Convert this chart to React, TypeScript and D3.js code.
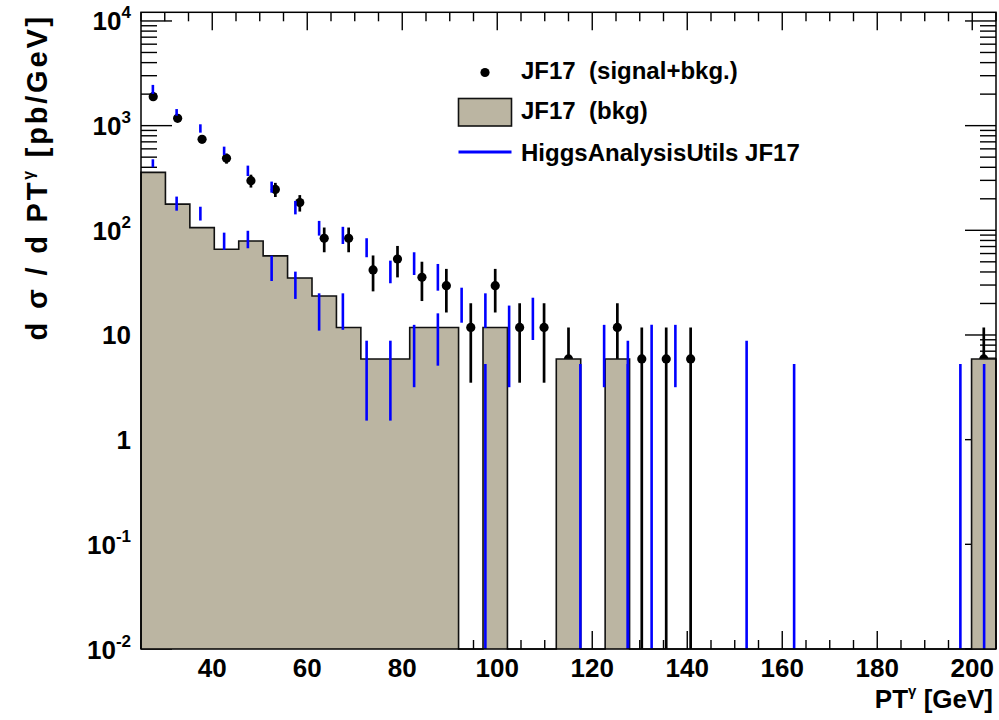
import React from 'react';
import * as d3 from 'd3';

// ---- binning (x categories) ----
const ptMin = 25;
const ptMax = 205;
const nBinsJF = 35; // JF17 histograms
const nBinsHAU = 36; // HiggsAnalysisUtils histograms

// ---- JF17 (signal+bkg.) : values and errors per bin ----
const sigBkgValues = [
  1892, 1175, 741, 487, 298, 246, 184, 84, 84, 41.8, 53.2, 35.6, 29.6, 11.8, 29.6, 11.8, 11.8, 5.9, 0,
  11.8, 5.9, 5.9, 5.9, 0, 0, 0, 0, 0, 0, 0, 0, 0, 0, 0, 5.9,
];
const sigBkgErrors = [
  106, 83, 66, 54, 42, 38, 33, 22.3, 22.3, 15.7, 17.7, 14.5, 13.2, 8.3, 13.2, 8.3, 8.3, 5.9, 0,
  8.3, 5.9, 5.9, 5.9, 0, 0, 0, 0, 0, 0, 0, 0, 0, 0, 0, 5.9,
];

// ---- JF17 (bkg) ----
const bkgValues = [
  358, 178, 106, 66, 79, 57, 35, 23.6, 11.8, 5.9, 5.9, 11.8, 11.8, 0, 11.8, 0, 0, 5.9, 0, 5.9,
  0, 0, 0, 0, 0, 0, 0, 0, 0, 0, 0, 0, 0, 0, 5.9,
];

// ---- HiggsAnalysisUtils JF17 : error bar ranges (high / low), null = empty ----
const hauTotalHigh = [
  2450, 1440, 1030, 630, 415, 292, 191, 123, 108, 84, 51.3, 61.7, 47.7, 28.3, 25.0, 19.1, 22.7, null,
  null, 12.5, 8.8, 12.5, 12.5, null, null, 8.8, null, null, null, null, null, null, null, null, null, null,
];
const hauTotalLow = [
  2010, 1245, 857, 524, 330, 229, 142, 89, 74, 55.3, 31.2, 37.4, 26.5, 13.1, 11.7, 3.17, 8.96, null,
  null, 3.17, 0, 0, 3.17, null, null, 0, null, null, null, null, null, null, null, null, null, null,
];
const hauBkgHigh = [
  477, 210, 168, 95, 99, 57.2, 40.3, 25.0, 25.0, 8.82, 8.82, 12.5, 16.1, null, 5.28, null, null, null,
  5.28, null, 5.28, null, null, null, null, null, null, 5.28, null, null, null, null, null, null, 5.28, 5.28,
];
const hauBkgLow = [
  400, 154, 124, 65, 67.4, 32.8, 22.1, 11.0, 11.2, 1.52, 1.52, 3.17, 5.09, null, 0, null, null, null,
  0, null, 0, null, null, null, null, null, null, 0, null, null, null, null, null, null, 0, 0,
];

// ---- axis ticks ----
const xMajorTicks = [40, 60, 80, 100, 120, 140, 160, 180, 200];
const xMinorStep = 5;
const yDecades = [-2, -1, 0, 1, 2, 3, 4];
const yMax = 12100;

const legendLabels = ['JF17  (signal+bkg.)', 'JF17  (bkg)', 'HiggsAnalysisUtils JF17'];

const FONT = '"Liberation Sans", Arial, Helvetica, sans-serif';
const BKG_FILL = '#bbb5a2';
const BLUE = '#0000ff';

export default function App() {
  const W = 999;
  const H = 720;
  const L = 141, R = 996, T = 12.3, B = 649;

  const x = d3.scaleLinear().domain([ptMin, ptMax]).range([L, R]);
  const y = d3.scaleLog().domain([0.01, yMax]).range([B, T]);
  const yc = (v: number) => (v > 0.01 ? Math.max(T, y(v)) : B);

  const jfEdges = d3.range(nBinsJF + 1).map((i) => ptMin + (i * (ptMax - ptMin)) / nBinsJF);
  const jfCenters = d3.range(nBinsJF).map((i) => (jfEdges[i] + jfEdges[i + 1]) / 2);
  const hauCenters = d3.range(nBinsHAU).map((i) => ptMin + ((i + 0.5) * (ptMax - ptMin)) / nBinsHAU);

  // x ticks
  const xAll = d3.range(ptMin, ptMax + 0.001, xMinorStep);
  const xMinor = xAll.filter((v) => !xMajorTicks.includes(v));
  // y ticks
  const yMajor = yDecades.map((d) => Math.pow(10, d));
  const yMinor: number[] = [];
  yDecades.forEach((d) => {
    for (let m = 2; m <= 9; m++) {
      const v = m * Math.pow(10, d);
      if (v < yMax) yMinor.push(v);
    }
  });

  // bkg histogram shapes
  type P = { px: number; v: number };
  const stepPts: P[] = bkgValues.map((v, i) => ({ px: jfEdges[i], v }));
  stepPts.push({ px: ptMax, v: bkgValues[bkgValues.length - 1] });
  const area = d3
    .area<P>()
    .x((d) => x(d.px))
    .y0(B)
    .y1((d) => yc(d.v))
    .curve(d3.curveStepAfter);
  const outlinePts: P[] = [{ px: ptMin, v: 0 }, ...stepPts, { px: ptMax, v: 0 }];
  const line = d3
    .line<P>()
    .x((d) => x(d.px))
    .y((d) => yc(d.v))
    .curve(d3.curveStepAfter);

  const xTickMajorLen = 18, xTickMinorLen = 9;
  const yTickMajorLen = 31, yTickMinorLen = 16;

  const yLabel = (d: number) => {
    if (d === 0) return <>1</>;
    if (d === 1) return <>10</>;
    return (
      <>
        10
        <tspan dy={-12} fontSize={17}>
          {String(d)}
        </tspan>
      </>
    );
  };

  return (
    <svg
      width={W}
      height={H}
      style={{ position: 'absolute', left: 0, top: 0, background: '#fff' }}
      fontFamily={FONT}
      fontWeight="bold"
    >
      <rect x={0} y={0} width={W} height={H} fill="#fff" />

      {/* ticks (drawn under histograms) */}
      <g stroke="#000" strokeWidth={1.4}>
        {xMajorTicks.map((v) => (
          <g key={'xM' + v}>
            <line x1={x(v)} x2={x(v)} y1={B} y2={B - xTickMajorLen} />
            <line x1={x(v)} x2={x(v)} y1={T} y2={T + xTickMajorLen} />
          </g>
        ))}
        {xMinor.map((v) => (
          <g key={'xm' + v}>
            <line x1={x(v)} x2={x(v)} y1={B} y2={B - xTickMinorLen} />
            <line x1={x(v)} x2={x(v)} y1={T} y2={T + xTickMinorLen} />
          </g>
        ))}
        {yMajor.map((v) => (
          <g key={'yM' + v}>
            <line x1={L} x2={L + yTickMajorLen} y1={y(v)} y2={y(v)} />
            <line x1={R} x2={R - yTickMajorLen} y1={y(v)} y2={y(v)} />
          </g>
        ))}
        {yMinor.map((v) => (
          <g key={'ym' + v}>
            <line x1={L} x2={L + yTickMinorLen} y1={y(v)} y2={y(v)} />
            <line x1={R} x2={R - yTickMinorLen} y1={y(v)} y2={y(v)} />
          </g>
        ))}
      </g>

      {/* JF17 signal+bkg points */}
      <g>
        {sigBkgValues.map((v, i) =>
          v > 0 ? (
            <g key={'sb' + i}>
              <line
                x1={x(jfCenters[i])}
                x2={x(jfCenters[i])}
                y1={yc(v + sigBkgErrors[i])}
                y2={yc(v - sigBkgErrors[i])}
                stroke="#000"
                strokeWidth={2.7}
              />
              <circle cx={x(jfCenters[i])} cy={yc(v)} r={4.6} fill="#000" />
            </g>
          ) : null
        )}
      </g>

      {/* JF17 bkg histogram */}
      <path d={area(stepPts) || ''} fill={BKG_FILL} stroke="none" />
      <path d={line(outlinePts) || ''} fill="none" stroke="#111" strokeWidth={1.6} />

      {/* HiggsAnalysisUtils error bars */}
      <g stroke={BLUE} strokeWidth={2.6}>
        {hauCenters.map((c, i) => (
          <g key={'hau' + i}>
            {hauTotalHigh[i] != null ? (
              <line x1={x(c)} x2={x(c)} y1={yc(hauTotalHigh[i] as number)} y2={yc(hauTotalLow[i] as number)} />
            ) : null}
            {hauBkgHigh[i] != null ? (
              <line x1={x(c)} x2={x(c)} y1={yc(hauBkgHigh[i] as number)} y2={yc(hauBkgLow[i] as number)} />
            ) : null}
          </g>
        ))}
      </g>

      {/* frame */}
      <rect x={L} y={T} width={R - L} height={B - T} fill="none" stroke="#000" strokeWidth={1.5} />

      {/* y tick labels */}
      <g fontSize={26} textAnchor="end" fill="#000">
        {yDecades.map((d) => (
          <text key={'yl' + d} x={131} y={y(Math.pow(10, d)) + 9.5}>
            {yLabel(d)}
          </text>
        ))}
      </g>

      {/* x tick labels */}
      <g fontSize={26} textAnchor="middle" fill="#000">
        {xMajorTicks.map((v) => (
          <text key={'xl' + v} x={x(v)} y={677}>
            {v}
          </text>
        ))}
      </g>

      {/* axis titles */}
      <text x={993} y={708} fontSize={26} textAnchor="end" fill="#000">
        PT
        <tspan dy={-12} fontSize={15}>
          γ
        </tspan>
        <tspan dy={12}> [GeV]</tspan>
      </text>
      <text
        transform="translate(47,14) rotate(-90)"
        fontSize={29}
        letterSpacing={2.8}
        textAnchor="end"
        fill="#000"
      >
        d σ / d PT
        <tspan dy={-13} fontSize={16}>
          γ
        </tspan>
        <tspan dy={13}> [pb/GeV]</tspan>
      </text>

      {/* legend */}
      <g fontSize={24} fill="#000" style={{ whiteSpace: 'pre' }}>
        <circle cx={485} cy={72.5} r={4.6} fill="#000" />
        <text x={521} y={79} xmlSpace="preserve">
          {legendLabels[0]}
        </text>
        <rect x={458.5} y={98.5} width={53} height={27.5} fill={BKG_FILL} stroke="#111" strokeWidth={1.6} />
        <text x={521} y={119} xmlSpace="preserve">
          {legendLabels[1]}
        </text>
        <line x1={458.5} x2={511.5} y1={152} y2={152} stroke={BLUE} strokeWidth={3} />
        <text x={521} y={160.5} xmlSpace="preserve">
          {legendLabels[2]}
        </text>
      </g>
    </svg>
  );
}
